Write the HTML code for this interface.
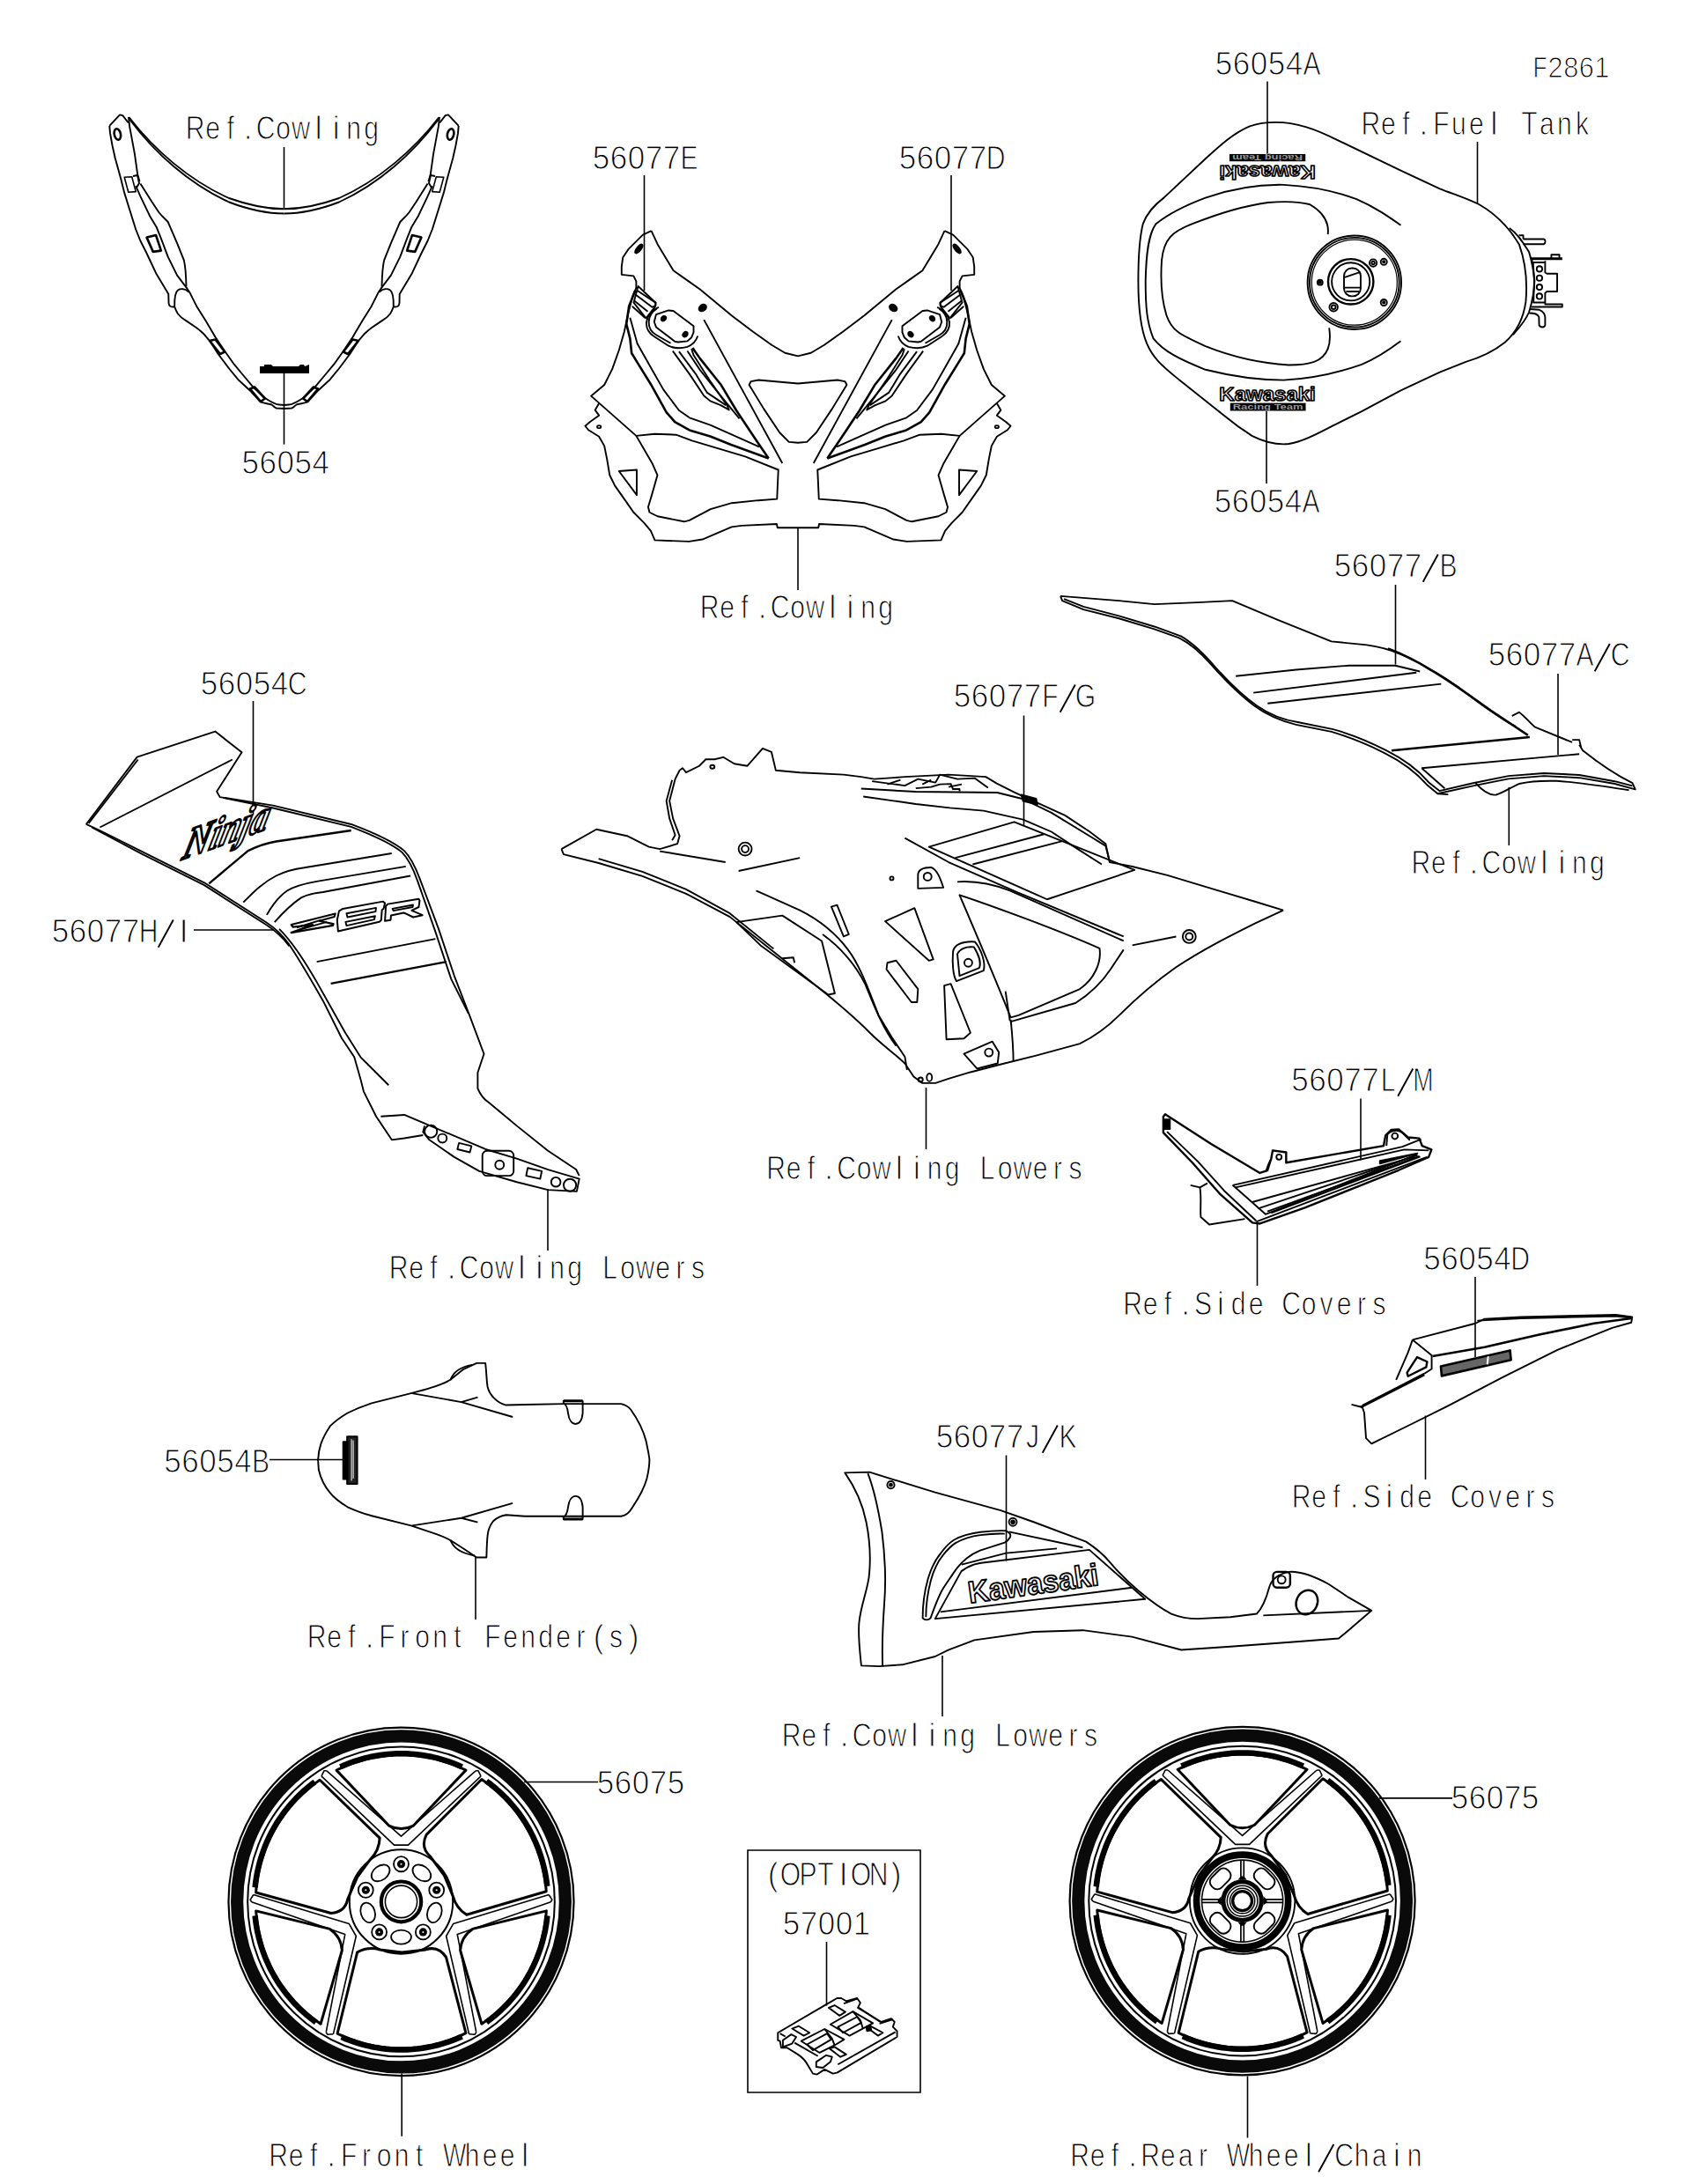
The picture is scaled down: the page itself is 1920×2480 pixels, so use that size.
<!DOCTYPE html>
<html><head><meta charset="utf-8"><title>F2861</title>
<style>
html,body{margin:0;padding:0;background:#fff;}
body{width:1920px;height:2480px;overflow:hidden;}
svg{display:block;}
path,ellipse,rect,circle,polyline,line{vector-effect:non-scaling-stroke;}
#labels text{font-family:"Liberation Sans",sans-serif;fill:#000;stroke:#fff;stroke-width:1.0px;text-anchor:middle;}
</style></head><body>
<svg width="1920" height="2480" viewBox="0 0 1920 2480">

<g id="labels">
<text transform="translate(221.7,158.3) scale(0.86,1.05)" font-size="35.0">R</text>
<text transform="translate(241.7,158.3) scale(0.86,1.05)" font-size="35.0">e</text>
<text transform="translate(261.7,158.3) scale(0.86,1.05)" font-size="35.0">f</text>
<text transform="translate(281.7,158.3) scale(1.0,1.05)" font-size="35.0">.</text>
<text transform="translate(301.7,158.3) scale(0.86,1.05)" font-size="35.0">C</text>
<text transform="translate(321.7,158.3) scale(0.86,1.05)" font-size="35.0">o</text>
<text transform="translate(341.7,158.3) scale(0.84,1.05)" font-size="35.0">w</text>
<text transform="translate(361.7,158.3) scale(1.0,1.05)" font-size="35.0">l</text>
<text transform="translate(381.7,158.3) scale(1.0,1.05)" font-size="35.0">i</text>
<text transform="translate(401.7,158.3) scale(0.86,1.05)" font-size="35.0">n</text>
<text transform="translate(421.7,158.3) scale(0.86,1.05)" font-size="35.0">g</text>
<text transform="translate(284.1,538.4) scale(1.0,1.05)" font-size="35.0">5</text>
<text transform="translate(304.1,538.4) scale(1.0,1.05)" font-size="35.0">6</text>
<text transform="translate(324.1,538.4) scale(1.0,1.05)" font-size="35.0">0</text>
<text transform="translate(344.1,538.4) scale(1.0,1.05)" font-size="35.0">5</text>
<text transform="translate(364.1,538.4) scale(1.0,1.05)" font-size="35.0">4</text>
<text transform="translate(682.5,192.3) scale(1.0,1.05)" font-size="35.0">5</text>
<text transform="translate(702.5,192.3) scale(1.0,1.05)" font-size="35.0">6</text>
<text transform="translate(722.5,192.3) scale(1.0,1.05)" font-size="35.0">0</text>
<text transform="translate(742.5,192.3) scale(1.0,1.05)" font-size="35.0">7</text>
<text transform="translate(762.5,192.3) scale(1.0,1.05)" font-size="35.0">7</text>
<text transform="translate(782.5,192.3) scale(0.86,1.05)" font-size="35.0">E</text>
<text transform="translate(1030.5,192.3) scale(1.0,1.05)" font-size="35.0">5</text>
<text transform="translate(1050.5,192.3) scale(1.0,1.05)" font-size="35.0">6</text>
<text transform="translate(1070.5,192.3) scale(1.0,1.05)" font-size="35.0">0</text>
<text transform="translate(1090.5,192.3) scale(1.0,1.05)" font-size="35.0">7</text>
<text transform="translate(1110.5,192.3) scale(1.0,1.05)" font-size="35.0">7</text>
<text transform="translate(1130.5,192.3) scale(0.86,1.05)" font-size="35.0">D</text>
<text transform="translate(805.5,702.3) scale(0.86,1.05)" font-size="35.0">R</text>
<text transform="translate(825.5,702.3) scale(0.86,1.05)" font-size="35.0">e</text>
<text transform="translate(845.5,702.3) scale(0.86,1.05)" font-size="35.0">f</text>
<text transform="translate(865.5,702.3) scale(1.0,1.05)" font-size="35.0">.</text>
<text transform="translate(885.5,702.3) scale(0.86,1.05)" font-size="35.0">C</text>
<text transform="translate(905.5,702.3) scale(0.86,1.05)" font-size="35.0">o</text>
<text transform="translate(925.5,702.3) scale(0.84,1.05)" font-size="35.0">w</text>
<text transform="translate(945.5,702.3) scale(1.0,1.05)" font-size="35.0">l</text>
<text transform="translate(965.5,702.3) scale(1.0,1.05)" font-size="35.0">i</text>
<text transform="translate(985.5,702.3) scale(0.86,1.05)" font-size="35.0">n</text>
<text transform="translate(1005.5,702.3) scale(0.86,1.05)" font-size="35.0">g</text>
<text transform="translate(1389.5,84.6) scale(1.0,1.05)" font-size="35.0">5</text>
<text transform="translate(1409.5,84.6) scale(1.0,1.05)" font-size="35.0">6</text>
<text transform="translate(1429.5,84.6) scale(1.0,1.05)" font-size="35.0">0</text>
<text transform="translate(1449.5,84.6) scale(1.0,1.05)" font-size="35.0">5</text>
<text transform="translate(1469.5,84.6) scale(1.0,1.05)" font-size="35.0">4</text>
<text transform="translate(1489.5,84.6) scale(0.86,1.05)" font-size="35.0">A</text>
<text transform="translate(1748.5,87.9) scale(0.86,1.05)" font-size="30.8">F</text>
<text transform="translate(1766.1,87.9) scale(1.0,1.05)" font-size="30.8">2</text>
<text transform="translate(1783.7,87.9) scale(1.0,1.05)" font-size="30.8">8</text>
<text transform="translate(1801.3,87.9) scale(1.0,1.05)" font-size="30.8">6</text>
<text transform="translate(1818.9,87.9) scale(1.0,1.05)" font-size="30.8">1</text>
<text transform="translate(1556.4,152.6) scale(0.86,1.05)" font-size="35.0">R</text>
<text transform="translate(1576.4,152.6) scale(0.86,1.05)" font-size="35.0">e</text>
<text transform="translate(1596.4,152.6) scale(0.86,1.05)" font-size="35.0">f</text>
<text transform="translate(1616.4,152.6) scale(1.0,1.05)" font-size="35.0">.</text>
<text transform="translate(1636.4,152.6) scale(0.86,1.05)" font-size="35.0">F</text>
<text transform="translate(1656.4,152.6) scale(0.86,1.05)" font-size="35.0">u</text>
<text transform="translate(1676.4,152.6) scale(0.86,1.05)" font-size="35.0">e</text>
<text transform="translate(1696.4,152.6) scale(1.0,1.05)" font-size="35.0">l</text>
<text transform="translate(1736.4,152.6) scale(0.86,1.05)" font-size="35.0">T</text>
<text transform="translate(1756.4,152.6) scale(0.86,1.05)" font-size="35.0">a</text>
<text transform="translate(1776.4,152.6) scale(0.86,1.05)" font-size="35.0">n</text>
<text transform="translate(1796.4,152.6) scale(0.86,1.05)" font-size="35.0">k</text>
<text transform="translate(1388.5,582.3) scale(1.0,1.05)" font-size="35.0">5</text>
<text transform="translate(1408.5,582.3) scale(1.0,1.05)" font-size="35.0">6</text>
<text transform="translate(1428.5,582.3) scale(1.0,1.05)" font-size="35.0">0</text>
<text transform="translate(1448.5,582.3) scale(1.0,1.05)" font-size="35.0">5</text>
<text transform="translate(1468.5,582.3) scale(1.0,1.05)" font-size="35.0">4</text>
<text transform="translate(1488.5,582.3) scale(0.86,1.05)" font-size="35.0">A</text>
<text transform="translate(1524.5,654.8) scale(1.0,1.05)" font-size="35.0">5</text>
<text transform="translate(1544.5,654.8) scale(1.0,1.05)" font-size="35.0">6</text>
<text transform="translate(1564.5,654.8) scale(1.0,1.05)" font-size="35.0">0</text>
<text transform="translate(1584.5,654.8) scale(1.0,1.05)" font-size="35.0">7</text>
<text transform="translate(1604.5,654.8) scale(1.0,1.05)" font-size="35.0">7</text>
<path d="M1615.7 660.8 L1632.8 629.5" stroke="#000" stroke-width="1.90" fill="none"/>
<text transform="translate(1644.5,654.8) scale(0.86,1.05)" font-size="35.0">B</text>
<text transform="translate(1699.5,756.3) scale(1.0,1.05)" font-size="35.0">5</text>
<text transform="translate(1719.5,756.3) scale(1.0,1.05)" font-size="35.0">6</text>
<text transform="translate(1739.5,756.3) scale(1.0,1.05)" font-size="35.0">0</text>
<text transform="translate(1759.5,756.3) scale(1.0,1.05)" font-size="35.0">7</text>
<text transform="translate(1779.5,756.3) scale(1.0,1.05)" font-size="35.0">7</text>
<text transform="translate(1799.5,756.3) scale(0.86,1.05)" font-size="35.0">A</text>
<path d="M1810.7 762.3 L1827.8 731.0" stroke="#000" stroke-width="1.90" fill="none"/>
<text transform="translate(1839.5,756.3) scale(0.86,1.05)" font-size="35.0">C</text>
<text transform="translate(237.5,788.8) scale(1.0,1.05)" font-size="35.0">5</text>
<text transform="translate(257.5,788.8) scale(1.0,1.05)" font-size="35.0">6</text>
<text transform="translate(277.5,788.8) scale(1.0,1.05)" font-size="35.0">0</text>
<text transform="translate(297.5,788.8) scale(1.0,1.05)" font-size="35.0">5</text>
<text transform="translate(317.5,788.8) scale(1.0,1.05)" font-size="35.0">4</text>
<text transform="translate(337.5,788.8) scale(0.86,1.05)" font-size="35.0">C</text>
<text transform="translate(68.5,1069.8) scale(1.0,1.05)" font-size="35.0">5</text>
<text transform="translate(88.5,1069.8) scale(1.0,1.05)" font-size="35.0">6</text>
<text transform="translate(108.5,1069.8) scale(1.0,1.05)" font-size="35.0">0</text>
<text transform="translate(128.5,1069.8) scale(1.0,1.05)" font-size="35.0">7</text>
<text transform="translate(148.5,1069.8) scale(1.0,1.05)" font-size="35.0">7</text>
<text transform="translate(168.5,1069.8) scale(0.86,1.05)" font-size="35.0">H</text>
<path d="M179.7 1075.8 L196.8 1044.5" stroke="#000" stroke-width="1.90" fill="none"/>
<text transform="translate(208.5,1069.8) scale(1.0,1.05)" font-size="35.0">I</text>
<text transform="translate(452.5,1452.3) scale(0.86,1.05)" font-size="35.0">R</text>
<text transform="translate(472.5,1452.3) scale(0.86,1.05)" font-size="35.0">e</text>
<text transform="translate(492.5,1452.3) scale(0.86,1.05)" font-size="35.0">f</text>
<text transform="translate(512.5,1452.3) scale(1.0,1.05)" font-size="35.0">.</text>
<text transform="translate(532.5,1452.3) scale(0.86,1.05)" font-size="35.0">C</text>
<text transform="translate(552.5,1452.3) scale(0.86,1.05)" font-size="35.0">o</text>
<text transform="translate(572.5,1452.3) scale(0.84,1.05)" font-size="35.0">w</text>
<text transform="translate(592.5,1452.3) scale(1.0,1.05)" font-size="35.0">l</text>
<text transform="translate(612.5,1452.3) scale(1.0,1.05)" font-size="35.0">i</text>
<text transform="translate(632.5,1452.3) scale(0.86,1.05)" font-size="35.0">n</text>
<text transform="translate(652.5,1452.3) scale(0.86,1.05)" font-size="35.0">g</text>
<text transform="translate(692.5,1452.3) scale(0.86,1.05)" font-size="35.0">L</text>
<text transform="translate(712.5,1452.3) scale(0.86,1.05)" font-size="35.0">o</text>
<text transform="translate(732.5,1452.3) scale(0.84,1.05)" font-size="35.0">w</text>
<text transform="translate(752.5,1452.3) scale(0.86,1.05)" font-size="35.0">e</text>
<text transform="translate(772.5,1452.3) scale(0.86,1.05)" font-size="35.0">r</text>
<text transform="translate(792.5,1452.3) scale(0.86,1.05)" font-size="35.0">s</text>
<text transform="translate(1092.5,802.8) scale(1.0,1.05)" font-size="35.0">5</text>
<text transform="translate(1112.5,802.8) scale(1.0,1.05)" font-size="35.0">6</text>
<text transform="translate(1132.5,802.8) scale(1.0,1.05)" font-size="35.0">0</text>
<text transform="translate(1152.5,802.8) scale(1.0,1.05)" font-size="35.0">7</text>
<text transform="translate(1172.5,802.8) scale(1.0,1.05)" font-size="35.0">7</text>
<text transform="translate(1192.5,802.8) scale(0.86,1.05)" font-size="35.0">F</text>
<path d="M1203.7 808.8 L1220.8 777.5" stroke="#000" stroke-width="1.90" fill="none"/>
<text transform="translate(1232.5,802.8) scale(0.86,1.05)" font-size="35.0">G</text>
<text transform="translate(881.0,1338.8) scale(0.86,1.05)" font-size="35.0">R</text>
<text transform="translate(901.0,1338.8) scale(0.86,1.05)" font-size="35.0">e</text>
<text transform="translate(921.0,1338.8) scale(0.86,1.05)" font-size="35.0">f</text>
<text transform="translate(941.0,1338.8) scale(1.0,1.05)" font-size="35.0">.</text>
<text transform="translate(961.0,1338.8) scale(0.86,1.05)" font-size="35.0">C</text>
<text transform="translate(981.0,1338.8) scale(0.86,1.05)" font-size="35.0">o</text>
<text transform="translate(1001.0,1338.8) scale(0.84,1.05)" font-size="35.0">w</text>
<text transform="translate(1021.0,1338.8) scale(1.0,1.05)" font-size="35.0">l</text>
<text transform="translate(1041.0,1338.8) scale(1.0,1.05)" font-size="35.0">i</text>
<text transform="translate(1061.0,1338.8) scale(0.86,1.05)" font-size="35.0">n</text>
<text transform="translate(1081.0,1338.8) scale(0.86,1.05)" font-size="35.0">g</text>
<text transform="translate(1121.0,1338.8) scale(0.86,1.05)" font-size="35.0">L</text>
<text transform="translate(1141.0,1338.8) scale(0.86,1.05)" font-size="35.0">o</text>
<text transform="translate(1161.0,1338.8) scale(0.84,1.05)" font-size="35.0">w</text>
<text transform="translate(1181.0,1338.8) scale(0.86,1.05)" font-size="35.0">e</text>
<text transform="translate(1201.0,1338.8) scale(0.86,1.05)" font-size="35.0">r</text>
<text transform="translate(1221.0,1338.8) scale(0.86,1.05)" font-size="35.0">s</text>
<text transform="translate(1476.0,1238.8) scale(1.0,1.05)" font-size="35.0">5</text>
<text transform="translate(1496.0,1238.8) scale(1.0,1.05)" font-size="35.0">6</text>
<text transform="translate(1516.0,1238.8) scale(1.0,1.05)" font-size="35.0">0</text>
<text transform="translate(1536.0,1238.8) scale(1.0,1.05)" font-size="35.0">7</text>
<text transform="translate(1556.0,1238.8) scale(1.0,1.05)" font-size="35.0">7</text>
<text transform="translate(1576.0,1238.8) scale(0.86,1.05)" font-size="35.0">L</text>
<path d="M1587.2 1244.8 L1604.3 1213.5" stroke="#000" stroke-width="1.90" fill="none"/>
<text transform="translate(1616.0,1238.8) scale(0.8,1.05)" font-size="35.0">M</text>
<text transform="translate(1286.0,1493.3) scale(0.86,1.05)" font-size="35.0">R</text>
<text transform="translate(1306.0,1493.3) scale(0.86,1.05)" font-size="35.0">e</text>
<text transform="translate(1326.0,1493.3) scale(0.86,1.05)" font-size="35.0">f</text>
<text transform="translate(1346.0,1493.3) scale(1.0,1.05)" font-size="35.0">.</text>
<text transform="translate(1366.0,1493.3) scale(0.86,1.05)" font-size="35.0">S</text>
<text transform="translate(1386.0,1493.3) scale(1.0,1.05)" font-size="35.0">i</text>
<text transform="translate(1406.0,1493.3) scale(0.86,1.05)" font-size="35.0">d</text>
<text transform="translate(1426.0,1493.3) scale(0.86,1.05)" font-size="35.0">e</text>
<text transform="translate(1466.0,1493.3) scale(0.86,1.05)" font-size="35.0">C</text>
<text transform="translate(1486.0,1493.3) scale(0.86,1.05)" font-size="35.0">o</text>
<text transform="translate(1506.0,1493.3) scale(0.86,1.05)" font-size="35.0">v</text>
<text transform="translate(1526.0,1493.3) scale(0.86,1.05)" font-size="35.0">e</text>
<text transform="translate(1546.0,1493.3) scale(0.86,1.05)" font-size="35.0">r</text>
<text transform="translate(1566.0,1493.3) scale(0.86,1.05)" font-size="35.0">s</text>
<text transform="translate(1626.0,1442.3) scale(1.0,1.05)" font-size="35.0">5</text>
<text transform="translate(1646.0,1442.3) scale(1.0,1.05)" font-size="35.0">6</text>
<text transform="translate(1666.0,1442.3) scale(1.0,1.05)" font-size="35.0">0</text>
<text transform="translate(1686.0,1442.3) scale(1.0,1.05)" font-size="35.0">5</text>
<text transform="translate(1706.0,1442.3) scale(1.0,1.05)" font-size="35.0">4</text>
<text transform="translate(1726.0,1442.3) scale(0.86,1.05)" font-size="35.0">D</text>
<text transform="translate(1477.5,1711.8) scale(0.86,1.05)" font-size="35.0">R</text>
<text transform="translate(1497.5,1711.8) scale(0.86,1.05)" font-size="35.0">e</text>
<text transform="translate(1517.5,1711.8) scale(0.86,1.05)" font-size="35.0">f</text>
<text transform="translate(1537.5,1711.8) scale(1.0,1.05)" font-size="35.0">.</text>
<text transform="translate(1557.5,1711.8) scale(0.86,1.05)" font-size="35.0">S</text>
<text transform="translate(1577.5,1711.8) scale(1.0,1.05)" font-size="35.0">i</text>
<text transform="translate(1597.5,1711.8) scale(0.86,1.05)" font-size="35.0">d</text>
<text transform="translate(1617.5,1711.8) scale(0.86,1.05)" font-size="35.0">e</text>
<text transform="translate(1657.5,1711.8) scale(0.86,1.05)" font-size="35.0">C</text>
<text transform="translate(1677.5,1711.8) scale(0.86,1.05)" font-size="35.0">o</text>
<text transform="translate(1697.5,1711.8) scale(0.86,1.05)" font-size="35.0">v</text>
<text transform="translate(1717.5,1711.8) scale(0.86,1.05)" font-size="35.0">e</text>
<text transform="translate(1737.5,1711.8) scale(0.86,1.05)" font-size="35.0">r</text>
<text transform="translate(1757.5,1711.8) scale(0.86,1.05)" font-size="35.0">s</text>
<text transform="translate(1072.5,1643.8) scale(1.0,1.05)" font-size="35.0">5</text>
<text transform="translate(1092.5,1643.8) scale(1.0,1.05)" font-size="35.0">6</text>
<text transform="translate(1112.5,1643.8) scale(1.0,1.05)" font-size="35.0">0</text>
<text transform="translate(1132.5,1643.8) scale(1.0,1.05)" font-size="35.0">7</text>
<text transform="translate(1152.5,1643.8) scale(1.0,1.05)" font-size="35.0">7</text>
<text transform="translate(1172.5,1643.8) scale(0.86,1.05)" font-size="35.0">J</text>
<path d="M1183.7 1649.8 L1200.8 1618.5" stroke="#000" stroke-width="1.90" fill="none"/>
<text transform="translate(1212.5,1643.8) scale(0.86,1.05)" font-size="35.0">K</text>
<text transform="translate(196.0,1671.6) scale(1.0,1.05)" font-size="35.0">5</text>
<text transform="translate(216.0,1671.6) scale(1.0,1.05)" font-size="35.0">6</text>
<text transform="translate(236.0,1671.6) scale(1.0,1.05)" font-size="35.0">0</text>
<text transform="translate(256.0,1671.6) scale(1.0,1.05)" font-size="35.0">5</text>
<text transform="translate(276.0,1671.6) scale(1.0,1.05)" font-size="35.0">4</text>
<text transform="translate(296.0,1671.6) scale(0.86,1.05)" font-size="35.0">B</text>
<text transform="translate(359.5,1871.3) scale(0.86,1.05)" font-size="35.0">R</text>
<text transform="translate(379.5,1871.3) scale(0.86,1.05)" font-size="35.0">e</text>
<text transform="translate(399.5,1871.3) scale(0.86,1.05)" font-size="35.0">f</text>
<text transform="translate(419.5,1871.3) scale(1.0,1.05)" font-size="35.0">.</text>
<text transform="translate(439.5,1871.3) scale(0.86,1.05)" font-size="35.0">F</text>
<text transform="translate(459.5,1871.3) scale(0.86,1.05)" font-size="35.0">r</text>
<text transform="translate(479.5,1871.3) scale(0.86,1.05)" font-size="35.0">o</text>
<text transform="translate(499.5,1871.3) scale(0.86,1.05)" font-size="35.0">n</text>
<text transform="translate(519.5,1871.3) scale(0.86,1.05)" font-size="35.0">t</text>
<text transform="translate(559.5,1871.3) scale(0.86,1.05)" font-size="35.0">F</text>
<text transform="translate(579.5,1871.3) scale(0.86,1.05)" font-size="35.0">e</text>
<text transform="translate(599.5,1871.3) scale(0.86,1.05)" font-size="35.0">n</text>
<text transform="translate(619.5,1871.3) scale(0.86,1.05)" font-size="35.0">d</text>
<text transform="translate(639.5,1871.3) scale(0.86,1.05)" font-size="35.0">e</text>
<text transform="translate(659.5,1871.3) scale(0.86,1.05)" font-size="35.0">r</text>
<text transform="translate(679.5,1871.3) scale(1.0,1.05)" font-size="35.0">(</text>
<text transform="translate(699.5,1871.3) scale(0.86,1.05)" font-size="35.0">s</text>
<text transform="translate(719.5,1871.3) scale(1.0,1.05)" font-size="35.0">)</text>
<text transform="translate(687.5,2037.0) scale(1.0,1.05)" font-size="35.0">5</text>
<text transform="translate(707.5,2037.0) scale(1.0,1.05)" font-size="35.0">6</text>
<text transform="translate(727.5,2037.0) scale(1.0,1.05)" font-size="35.0">0</text>
<text transform="translate(747.5,2037.0) scale(1.0,1.05)" font-size="35.0">7</text>
<text transform="translate(767.5,2037.0) scale(1.0,1.05)" font-size="35.0">5</text>
<text transform="translate(898.5,1982.8) scale(0.86,1.05)" font-size="35.0">R</text>
<text transform="translate(918.5,1982.8) scale(0.86,1.05)" font-size="35.0">e</text>
<text transform="translate(938.5,1982.8) scale(0.86,1.05)" font-size="35.0">f</text>
<text transform="translate(958.5,1982.8) scale(1.0,1.05)" font-size="35.0">.</text>
<text transform="translate(978.5,1982.8) scale(0.86,1.05)" font-size="35.0">C</text>
<text transform="translate(998.5,1982.8) scale(0.86,1.05)" font-size="35.0">o</text>
<text transform="translate(1018.5,1982.8) scale(0.84,1.05)" font-size="35.0">w</text>
<text transform="translate(1038.5,1982.8) scale(1.0,1.05)" font-size="35.0">l</text>
<text transform="translate(1058.5,1982.8) scale(1.0,1.05)" font-size="35.0">i</text>
<text transform="translate(1078.5,1982.8) scale(0.86,1.05)" font-size="35.0">n</text>
<text transform="translate(1098.5,1982.8) scale(0.86,1.05)" font-size="35.0">g</text>
<text transform="translate(1138.5,1982.8) scale(0.86,1.05)" font-size="35.0">L</text>
<text transform="translate(1158.5,1982.8) scale(0.86,1.05)" font-size="35.0">o</text>
<text transform="translate(1178.5,1982.8) scale(0.84,1.05)" font-size="35.0">w</text>
<text transform="translate(1198.5,1982.8) scale(0.86,1.05)" font-size="35.0">e</text>
<text transform="translate(1218.5,1982.8) scale(0.86,1.05)" font-size="35.0">r</text>
<text transform="translate(1238.5,1982.8) scale(0.86,1.05)" font-size="35.0">s</text>
<text transform="translate(877.5,2140.8) scale(1.0,1.05)" font-size="35.0">(</text>
<text transform="translate(897.5,2140.8) scale(0.86,1.05)" font-size="35.0">O</text>
<text transform="translate(917.5,2140.8) scale(0.86,1.05)" font-size="35.0">P</text>
<text transform="translate(937.5,2140.8) scale(0.86,1.05)" font-size="35.0">T</text>
<text transform="translate(957.5,2140.8) scale(1.0,1.05)" font-size="35.0">I</text>
<text transform="translate(977.5,2140.8) scale(0.86,1.05)" font-size="35.0">O</text>
<text transform="translate(997.5,2140.8) scale(0.86,1.05)" font-size="35.0">N</text>
<text transform="translate(1017.5,2140.8) scale(1.0,1.05)" font-size="35.0">)</text>
<text transform="translate(898.5,2197.3) scale(1.0,1.05)" font-size="35.0">5</text>
<text transform="translate(918.5,2197.3) scale(1.0,1.05)" font-size="35.0">7</text>
<text transform="translate(938.5,2197.3) scale(1.0,1.05)" font-size="35.0">0</text>
<text transform="translate(958.5,2197.3) scale(1.0,1.05)" font-size="35.0">0</text>
<text transform="translate(978.5,2197.3) scale(1.0,1.05)" font-size="35.0">1</text>
<text transform="translate(1226.0,2460.3) scale(0.86,1.05)" font-size="35.0">R</text>
<text transform="translate(1246.0,2460.3) scale(0.86,1.05)" font-size="35.0">e</text>
<text transform="translate(1266.0,2460.3) scale(0.86,1.05)" font-size="35.0">f</text>
<text transform="translate(1286.0,2460.3) scale(1.0,1.05)" font-size="35.0">.</text>
<text transform="translate(1306.0,2460.3) scale(0.86,1.05)" font-size="35.0">R</text>
<text transform="translate(1326.0,2460.3) scale(0.86,1.05)" font-size="35.0">e</text>
<text transform="translate(1346.0,2460.3) scale(0.86,1.05)" font-size="35.0">a</text>
<text transform="translate(1366.0,2460.3) scale(0.86,1.05)" font-size="35.0">r</text>
<text transform="translate(1406.0,2460.3) scale(0.8,1.05)" font-size="35.0">W</text>
<text transform="translate(1426.0,2460.3) scale(0.86,1.05)" font-size="35.0">h</text>
<text transform="translate(1446.0,2460.3) scale(0.86,1.05)" font-size="35.0">e</text>
<text transform="translate(1466.0,2460.3) scale(0.86,1.05)" font-size="35.0">e</text>
<text transform="translate(1486.0,2460.3) scale(1.0,1.05)" font-size="35.0">l</text>
<path d="M1497.2 2466.3 L1514.3 2435.0" stroke="#000" stroke-width="1.90" fill="none"/>
<text transform="translate(1526.0,2460.3) scale(0.86,1.05)" font-size="35.0">C</text>
<text transform="translate(1546.0,2460.3) scale(0.86,1.05)" font-size="35.0">h</text>
<text transform="translate(1566.0,2460.3) scale(0.86,1.05)" font-size="35.0">a</text>
<text transform="translate(1586.0,2460.3) scale(1.0,1.05)" font-size="35.0">i</text>
<text transform="translate(1606.0,2460.3) scale(0.86,1.05)" font-size="35.0">n</text>
<text transform="translate(1657.5,2054.1) scale(1.0,1.05)" font-size="35.0">5</text>
<text transform="translate(1677.5,2054.1) scale(1.0,1.05)" font-size="35.0">6</text>
<text transform="translate(1697.5,2054.1) scale(1.0,1.05)" font-size="35.0">0</text>
<text transform="translate(1717.5,2054.1) scale(1.0,1.05)" font-size="35.0">7</text>
<text transform="translate(1737.5,2054.1) scale(1.0,1.05)" font-size="35.0">5</text>
<text transform="translate(316.1,2459.5) scale(0.86,1.05)" font-size="35.0">R</text>
<text transform="translate(336.1,2459.5) scale(0.86,1.05)" font-size="35.0">e</text>
<text transform="translate(356.1,2459.5) scale(0.86,1.05)" font-size="35.0">f</text>
<text transform="translate(376.1,2459.5) scale(1.0,1.05)" font-size="35.0">.</text>
<text transform="translate(396.1,2459.5) scale(0.86,1.05)" font-size="35.0">F</text>
<text transform="translate(416.1,2459.5) scale(0.86,1.05)" font-size="35.0">r</text>
<text transform="translate(436.1,2459.5) scale(0.86,1.05)" font-size="35.0">o</text>
<text transform="translate(456.1,2459.5) scale(0.86,1.05)" font-size="35.0">n</text>
<text transform="translate(476.1,2459.5) scale(0.86,1.05)" font-size="35.0">t</text>
<text transform="translate(516.1,2459.5) scale(0.8,1.05)" font-size="35.0">W</text>
<text transform="translate(536.1,2459.5) scale(0.86,1.05)" font-size="35.0">h</text>
<text transform="translate(556.1,2459.5) scale(0.86,1.05)" font-size="35.0">e</text>
<text transform="translate(576.1,2459.5) scale(0.86,1.05)" font-size="35.0">e</text>
<text transform="translate(596.1,2459.5) scale(1.0,1.05)" font-size="35.0">l</text>
<text transform="translate(1613.4,992.0) scale(0.86,1.05)" font-size="35.0">R</text>
<text transform="translate(1633.4,992.0) scale(0.86,1.05)" font-size="35.0">e</text>
<text transform="translate(1653.4,992.0) scale(0.86,1.05)" font-size="35.0">f</text>
<text transform="translate(1673.4,992.0) scale(1.0,1.05)" font-size="35.0">.</text>
<text transform="translate(1693.4,992.0) scale(0.86,1.05)" font-size="35.0">C</text>
<text transform="translate(1713.4,992.0) scale(0.86,1.05)" font-size="35.0">o</text>
<text transform="translate(1733.4,992.0) scale(0.84,1.05)" font-size="35.0">w</text>
<text transform="translate(1753.4,992.0) scale(1.0,1.05)" font-size="35.0">l</text>
<text transform="translate(1773.4,992.0) scale(1.0,1.05)" font-size="35.0">i</text>
<text transform="translate(1793.4,992.0) scale(0.86,1.05)" font-size="35.0">n</text>
<text transform="translate(1813.4,992.0) scale(0.86,1.05)" font-size="35.0">g</text>
</g>
<!-- 00_leaders.svg -->
<g id="leaders" stroke="#000" stroke-width="1.6" fill="none">
<path d="M322.5 167V236.6"/>
<path d="M322.5 422.7V504.6"/>
<path d="M731.5 199V330"/>
<path d="M1080 199V330"/>
<path d="M906 600V670"/>
<path d="M1439 92.5V175"/>
<path d="M1677.5 161V231"/>
<path d="M1438 465V549"/>
<path d="M1584.5 664V754.5"/>
<path d="M1769 765V857"/>
<path d="M1713.3 893.8V960"/>
<path d="M287.5 796V925"/>
<path d="M220 1056H310"/>
<path d="M622 1350V1420"/>
<path d="M1162.5 812.5V937.5"/>
<path d="M1051.5 1235V1305"/>
<path d="M1545 1247.5V1317.5"/>
<path d="M1427.5 1390V1460"/>
<path d="M1675 1450V1541"/>
<path d="M1618.5 1607.5V1680"/>
<path d="M1142.5 1652.5V1772.5"/>
<path d="M306 1657.5H395"/>
<path d="M540 1767.5V1839"/>
<path d="M595 2023.5H679"/>
<path d="M1070 1880V1949"/>
<path d="M938.5 2205V2277.5"/>
<path d="M1416.5 2357.5V2427.5"/>
<path d="M1565.8 2041.9H1649"/>
<path d="M456.2 2354.5V2425.8"/>
<rect x="849" y="2101" width="196" height="275"/>
</g>

<!-- 10_windscreen.svg -->
<g id="windscreen" stroke="#000" stroke-width="1.9" fill="none" stroke-linejoin="round">
<g id="wsL">
<!-- top tip -->
<path d="M124.3 142.8 L136 130.4 L139.3 131.1 L145.8 139.5"/>
<ellipse cx="133.4" cy="152.5" rx="3.6" ry="6.3" transform="rotate(-12 133.4 152.5)" stroke-width="2.6"/>
<!-- outer edge -->
<path d="M124.3 142.8 L125 151.2 L127.6 165.5 L130.8 179.8 L137.3 203.3 L141.2 218.9 L147.7 239.7 L154.2 260.5 L159.4 273.5 L166 286.5 L177.7 311.3 L189.4 330.8 L191.3 334 L191.5 344 Q192 349 197 348.5 L198.2 348.2"/>
<!-- inner arm line -->
<path d="M146 133 L147.1 143.4 L152.9 174.6 L156.2 198.1 L158.5 206"/>
<path d="M159.4 208.5 L172.5 229.3 L180.3 241 C185 247 188 249 190.7 252 L201.1 276.1 L208.9 295.6 C211 305 211.3 315 211.5 325.6"/>
<path d="M154.2 211.1 L159.4 222.8 L169.9 244.9 L177.7 257.9 L182.9 270.9 L190.7 291.7 L201.1 312.6 L211.5 326.4 L215.8 332.8 L223.2 347.7 L233.9 364.7 L244.5 382.8 L255.2 398.8 L265.8 413.7 L276.5 426.5 L287.1 439.2 L300.9 452 C306 455 311 459 316.9 459.5 L322.5 460"/>
<!-- lobe and lower outer -->
<path d="M198.2 348.2 C198 340 198.5 332 202 329.5 C205 327.5 210 327.5 214.7 331.7"/>
<path d="M198.2 348.2 C199.5 352 200.5 354 201.9 356.2 C204 359 207 361.5 210.5 363.6 L223.2 372.2 C227 375 229 377 231.7 379.6 L238.1 387.1 L247.7 402 L260.5 419 L271.1 431.8 L285 444.5 L295.6 456.3 C300 458 305 458.5 308.4 459.5 C311 461 311.5 463 314 463.5 L322.5 464"/>
<!-- upper arc double -->
<path d="M146.4 133 C175 170 215 205 260 225 C285 234 305 237.3 322.5 237.3"/>
<path d="M147.5 136 C176 174 215 209 260 229.5 C285 239 305 242.5 322.5 242.5"/>
<!-- slots -->
<path d="M141.2 201.3 L149.7 200.7 L154.2 217.6 L145.8 218.2 Z" stroke-width="1.6"/>
<path d="M151 200 L156 199 L158 208 L154.5 214"/>
<path d="M166.6 269.6 L177 267 L182.9 284.6 L173.8 285.9 Z" stroke-width="2.6"/>
<path d="M238.1 387 L244.5 385.5 L255.2 399.5 L250 402 Z" stroke-width="2.6"/>
<path d="M283.9 441.5 L289 439.5 L300.9 452.5 L296 456 Z" stroke-width="2.6"/>
</g>
<use href="#wsL" transform="translate(645,0) scale(-1,1)"/>
<path d="M295 416 L300 416 L300 414 L308 414 L310 416 L339 416 L341 414 L345 414 L346 416 L351 414 L351 424 L295 424 Z" fill="#000" stroke="none"/>
</g>

<!-- 20_frontcowl.svg -->
<g id="frontcowl" stroke="#000" stroke-width="1.9" fill="none" stroke-linejoin="round">
<g id="fcL">
<g transform="translate(650,250) scale(0.30159)">
<path d="M297 40 L320 90 L350 140 L380 190 L430 225 L480 260 L540 310 L600 360 L680 420 L750 470 L800 500 L849 512"/>
<path d="M297 40 L265 55 L240 80 L210 110 L190 140 L185 175 L185 205 L230 210 L240 230 L240 255"/>
<path d="M240 255 L225 290 L210 350 L195 420 L175 490 L150 560 L120 620 L70 662 L240 812"/>
<path d="M100 690 L85 715 L100 735 L65 760 L48 775 L60 790 L100 815 L120 850 L130 900 L140 960 L160 1000 L195 1050 L230 1100 L270 1140 L295 1170 L310 1205 L439 1210 L489 1202 L599 1155 L637 1150 L769 1144 L772 1158 L849 1158"/>
<ellipse cx="100" cy="778" rx="7" ry="5"/>
<path d="M240 812 L310 805 L390 808 L450 830 L550 860 L650 890 L775 940 L770 1050 L700 1055 L600 1065 L520 1088 L440 1130 L420 1135 L320 1115 L290 1100 L285 1080 L300 1030 L320 960 L300 915 Z"/>
<path d="M175 945 L242 940 L242 1035 Z"/>
<path d="M849 615 L700 602 L672 607 L665 620 L720 710 L780 800 L815 835 L849 838"/>
<path d="M495 375 L790 915"/>
<ellipse cx="490" cy="330" rx="15" ry="11" transform="rotate(-35 490 330)" fill="#000"/>
</g>
<g transform="translate(700,330) scale(0.11827)">
<path d="M405 160 C340 185 300 230 288 300 C282 360 300 400 360 440 L500 530 C540 550 600 560 680 540 C730 520 765 480 780 435"/>
<path d="M385 175 C335 205 312 250 310 300 C308 360 330 395 380 425 L520 505"/>
<path d="M380 230 L500 190 L545 195 L740 340 L740 400 L720 450 L680 485 L590 495 L560 488 L380 350 L362 300 Z"/>
<ellipse cx="452" cy="268" rx="26" ry="20" transform="rotate(-50 452 268)" fill="#000"/>
<ellipse cx="660" cy="420" rx="26" ry="20" transform="rotate(-50 660 420)" fill="#000"/>
<path d="M200 0 L375 115 L375 145 L340 160"/>
<path d="M185 40 L345 160"/>
<path d="M168 95 L300 200"/>
<path d="M150 150 L275 262"/>
<path d="M180 0 L120 150 L95 320 L130 460 L145 600 L200 690 L330 900 L480 1170 L560 1260 L700 1340 L900 1400 L1100 1480 L1460 1610" stroke-width="2.6"/>
<path d="M130 260 L200 510 L330 740 L450 950 L600 1150 L700 1220 L900 1290 L1100 1380 L1370 1500"/>
<path d="M540 580 L700 800 L840 1010 L900 1060 L1000 1100 L1080 1145 L1060 1100 L900 870 L740 620 L720 560"/>
<path d="M600 585 L760 800 L870 980 L1050 1100"/>
<path d="M730 550 L800 650 L1000 900 L1150 1150 L1250 1300 L1350 1450 L1460 1610" stroke-width="2.6"/>
<path d="M680 580 L800 760 L960 960 L1180 1230"/>
</g>
<ellipse cx="725.4" cy="282.5" rx="2.3" ry="6" transform="rotate(40 725.4 282.5)" fill="#000"/>
<path d="M724.5 325 L744.5 343.7 L744 348 L733.5 361.4 L719.5 343.7 Z"/>
</g>
<use href="#fcL" transform="translate(1812,0) scale(-1,1)"/>
</g>

<!-- 30_tank.svg -->
<g id="tank" stroke="#000" stroke-width="1.9" fill="none" stroke-linejoin="round">
<g transform="translate(1280,130) scale(0.29568)">
<path d="M570 30 C650 30 720 55 800 95 L1050 215 L1200 285 C1250 305 1300 320 1350 345 C1420 385 1470 440 1505 500 C1530 570 1537 640 1530 720 C1520 790 1490 840 1450 875 C1400 915 1350 935 1300 950 L1200 990 L1050 1060 L900 1140 L800 1190 C740 1220 680 1255 620 1265 C570 1270 520 1255 480 1235 C440 1210 400 1180 370 1155 L200 1020 C140 970 100 940 75 880 C50 820 42 720 42 640 C42 560 45 480 60 420 C75 380 100 350 140 320 L300 170 C360 115 410 70 470 45 C500 35 535 30 570 30 Z"/>
<path d="M1050 425 C1000 390 950 355 880 325 C800 295 700 275 600 270 C500 268 400 285 300 320 C220 350 160 380 110 420 C80 460 72 540 70 640 C70 740 75 800 100 860 C140 910 200 940 300 980 C400 1005 500 1020 600 1020 C700 1015 800 995 900 960 C960 935 1010 900 1050 870"/>
<path d="M770 460 C775 420 760 380 700 345 C660 335 600 333 540 338 C450 350 350 380 250 420 C170 450 140 480 132 560 C128 620 128 700 150 770 C170 830 200 845 300 890 C400 930 500 955 620 962 C700 962 750 950 770 900 C782 870 778 840 775 820"/>
<circle cx="872" cy="645" r="180"/>
<circle cx="872" cy="645" r="172"/>
<circle cx="872" cy="645" r="164" stroke-width="1.2"/>
<circle cx="858" cy="642" r="87" stroke-width="2.4"/>
<circle cx="858" cy="642" r="73"/>
<rect x="832" y="590" width="64" height="108" rx="30"/>
<path d="M835 625 L895 605 M835 665 L895 665 M840 680 L890 680"/>
<circle cx="740" cy="645" r="10"/><circle cx="740" cy="645" r="4" fill="#000"/>
<circle cx="792" cy="740" r="16"/><circle cx="792" cy="740" r="8"/>
<circle cx="985" cy="722" r="12"/><circle cx="985" cy="722" r="4" fill="#000"/>
<circle cx="985" cy="566" r="12"/><circle cx="985" cy="566" r="4" fill="#000"/>
<circle cx="944" cy="570" r="14"/><circle cx="944" cy="570" r="6"/>
<!-- decals -->
<rect x="392" y="152" width="292" height="28" fill="#000" stroke="none"/>
<rect x="395" y="1108" width="290" height="30" fill="#000" stroke="none"/>
<text x="538" y="1098" font-family="Liberation Sans" font-weight="bold" font-size="76" text-anchor="middle" fill="#fff" stroke="#000" stroke-width="5.5" textLength="370" lengthAdjust="spacingAndGlyphs" style="vector-effect:none">Kawasaki</text>
<text x="538" y="-195" transform="scale(-1,-1) translate(-1076,0)" font-family="Liberation Sans" font-weight="bold" font-size="76" text-anchor="middle" fill="#fff" stroke="#000" stroke-width="5.5" textLength="370" lengthAdjust="spacingAndGlyphs">Kawasaki</text>
<text x="540" y="1133" font-family="Liberation Sans" font-weight="bold" font-size="28" text-anchor="middle" fill="#999" stroke="none" textLength="270" lengthAdjust="spacingAndGlyphs">Racing Team</text>
<text x="538" y="-157" transform="scale(-1,-1) translate(-1076,0)" font-family="Liberation Sans" font-weight="bold" font-size="28" text-anchor="middle" fill="#999" stroke="none" textLength="270" lengthAdjust="spacingAndGlyphs">Racing Team</text>
</g>
<g transform="translate(1660,240) scale(0.08279)">
<path d="M650 230 C780 320 850 450 920 560 C950 660 980 800 995 950 C990 1100 960 1250 920 1380 C880 1480 820 1560 700 1691"/>
<path d="M780 330 L840 330 L840 380 M840 380 L1120 380 C1150 390 1150 440 1120 450 L840 450"/>
<path d="M940 650 L1375 650" stroke-width="3"/>
<path d="M1225 640 L1225 595 L1335 595 L1335 640"/>
<path d="M960 650 L960 700 L1140 700 M1140 680 L1140 840 L1165 855 L1305 855 L1305 1100 L1165 1100 L1140 1120 L1140 1275 L1375 1275 L1375 1310 L950 1310"/>
<path d="M975 700 L990 950 L980 1250 L1140 1250"/>
<circle cx="1062" cy="790" r="38"/><circle cx="1062" cy="915" r="38"/><circle cx="1062" cy="1040" r="38"/><circle cx="1062" cy="1165" r="38"/>
<path d="M930 1340 L1060 1350 C1110 1370 1135 1400 1140 1450 L1140 1560 C1135 1595 1075 1600 1058 1560 L1055 1450 C1040 1405 1000 1395 920 1395"/>
</g>
</g>

<!-- 40_tail.svg -->
<g id="tail" stroke="#000" stroke-width="1.9" fill="none" stroke-linejoin="round">
<g transform="translate(1190,660) scale(0.40212)">
<path d="M35 42 L200 55 L300 65 L420 60 L520 55 L650 110 L800 170 L900 180 C940 185 970 195 1000 208 C1060 235 1110 265 1160 300 C1220 345 1270 385 1320 410"/>
<path d="M960 190 C1000 205 1040 225 1080 250 C1140 285 1200 330 1250 365 L1355 435" stroke-width="2.6"/>
<path d="M35 42 L40 55 L100 80 L200 105 L300 135 L370 160 C400 175 430 200 460 235 C500 280 540 320 580 350 C620 380 660 395 700 405 L800 425 C850 440 900 460 950 485 C1000 510 1040 540 1070 575 L1100 600 L1130 602"/>
<path d="M45 50 L100 72 L200 98 L300 128 L375 155 C410 175 440 205 470 240 C510 285 545 320 590 352 C630 380 665 392 705 398 L805 418 C855 432 905 452 955 478 C1005 503 1045 533 1075 568 L1105 592 L1200 570 L1300 550 L1400 542 L1500 547 L1600 565 L1650 578"/>
<path d="M1100 600 L1200 578 L1300 558 L1400 550 L1500 555 L1600 572 L1658 588 L1650 570 C1600 545 1550 510 1510 478 L1500 462"/>
<path d="M1207 570 C1225 590 1245 606 1265 603 C1290 595 1310 580 1330 572 C1360 565 1400 563 1436 564 C1500 568 1560 578 1640 590"/>
<path d="M530 268 L700 250 L850 238 L980 238 L1050 255"/>
<path d="M580 315 L1040 258"/>
<path d="M620 345 L1110 290"/>
<path d="M970 478 L1360 440" stroke-width="2.4"/>
<path d="M1055 528 L1500 488"/>
<path d="M1055 528 L1120 585"/>
<path d="M1310 380 L1330 370 C1350 385 1360 400 1375 412 L1480 455"/>
<path d="M1480 448 L1500 448 L1505 470"/>
</g>
</g>

<!-- 50_sidefairing.svg -->
<g id="sidefairing" stroke="#000" stroke-width="1.9" fill="none" stroke-linejoin="round">
<g transform="translate(90,810) scale(0.35482)">
<path d="M22 355 L185 140 L435 58 L520 125 L440 250 L450 268 L620 295 L870 355 C950 385 1010 415 1040 440 C1060 460 1075 490 1090 530 L1150 690 L1200 840 L1250 970 L1295 1090 L1275 1150 L1275 1200 C1285 1225 1295 1235 1310 1245 L1400 1320 L1500 1400 L1590 1460 L1600 1480"/>
<path d="M30 352 L188 148"/>
<path d="M66 365 L490 148"/>
<path d="M22 355 L60 372 L200 442 L400 542 L600 670 C630 690 650 710 668 735 C700 780 740 850 780 920 L840 1040 L880 1100 L900 1170 L910 1210 L950 1290 L1000 1365 L1040 1360 L1100 1350"/>
<path d="M40 365 L200 450 L400 550 L600 678 C630 698 650 715 672 745" />
<path d="M640 690 C680 730 720 790 760 860 L850 1020 L900 1100 L990 1190"/>
<path d="M460 270 L620 303 L870 363 C945 392 1005 420 1033 445 C1055 468 1068 495 1082 535 L1140 700 L1190 850 L1245 960"/>
<path d="M965 1290 L1040 1285 L1100 1310 L1300 1395 L1400 1425 L1500 1460 L1600 1490 L1592 1530 L1500 1525 L1400 1500 L1280 1465 L1200 1420 L1120 1365 L1100 1340 L1105 1320"/>
<circle cx="1125" cy="1338" r="20"/><circle cx="1162" cy="1360" r="14"/>
<path d="M1215 1375 L1255 1385 L1250 1405 L1210 1395 Z"/>
<rect x="1290" y="1400" width="100" height="80" rx="15"/><circle cx="1345" cy="1445" r="14"/>
<path d="M1435 1455 L1480 1465 L1475 1490 L1430 1480 Z"/>
<circle cx="1525" cy="1500" r="15"/><circle cx="1570" cy="1510" r="20"/>
<path d="M415 545 L540 440 C570 425 600 415 630 410 L870 375" stroke-width="2.4"/>
<path d="M525 605 C560 570 590 540 630 520 C660 505 690 498 720 494 L1000 448"/>
<path d="M600 645 C620 610 640 585 665 568 C690 552 720 545 760 538 L1045 490"/>
<path d="M625 668 C650 640 680 610 710 590 C730 580 750 575 780 572 L1060 520"/>
<path d="M760 795 L1140 722"/>
<path d="M805 865 L1175 795" stroke-width="2.4"/>
<path d="M700 660 L760 800 M740 640 L805 865" stroke-width="0"/>
<text x="0" y="0" transform="translate(462,420) rotate(-20) skewX(-35)" font-family="Liberation Serif" font-style="italic" font-weight="bold" font-size="125" fill="#fff" stroke="#000" stroke-width="7" text-anchor="middle" textLength="290" lengthAdjust="spacingAndGlyphs">Ninja</text>
</g>
<g transform="translate(320,1000) scale(0.10645)">
<path d="M600 540 L590 420 L610 325 L650 300 L1080 222 L1100 240 L1085 300 L1068 312 L1060 420 L1040 440 Z" stroke-width="2"/>
<path d="M690 350 L700 390 L1000 330 L1005 290 Z"/>
<path d="M680 440 L690 480 L985 415 L995 378 Z"/>
<path d="M1100 430 L1110 270 L1130 250 L1460 195 L1470 212 L1460 282 L1385 318 L1500 368 L1402 390 L1300 342 L1165 372 L1160 420 Z" stroke-width="2"/>
<path d="M1180 300 L1190 320 L1395 282 L1400 258 Z"/>
<path d="M100 470 L570 352 L560 385 L400 430 L550 462 L545 478 L100 555 L330 470 L120 495 Z" stroke-width="2.2"/>
<path d="M160 500 L420 420 M200 520 L480 440" />
</g>
</g>

<!-- 60_midfairing.svg -->
<g id="midfairing" stroke="#000" stroke-width="1.9" fill="none" stroke-linejoin="round">
<g transform="translate(630,830) scale(0.49675)">
<path d="M15 270 L95 225 L165 240 L215 265 L240 270 L280 258 L285 240 L270 200 L262 160 L275 110 L285 90 L292 85 L300 95 L330 80 L345 65 L365 65 L385 60 L410 75 L440 80 L475 40 L495 48 L505 90 L560 95 L660 100 L700 105 L730 110 L800 105 L900 100 L985 105 L1010 120 L1050 140 L1104 165 L1166 193 L1222 230 L1259 258 L1268 300 L1320 310 L1400 330 L1500 360 L1600 390 L1665 410"/>
<path d="M268 250 L275 238 L262 200 L255 160 L268 112"/>
<ellipse cx="360" cy="82" rx="5" ry="4"/>
<path d="M15 270 L20 282 L100 302 L200 332 L300 372 L400 425 L500 505 L600 585 C650 625 690 660 720 690 C750 720 780 740 800 760 L820 790 L840 805 L870 805 L900 795 L950 780 L1020 762 L1100 742 L1200 715 C1230 700 1260 680 1290 650 C1330 610 1370 575 1420 540 C1480 500 1540 470 1600 440 L1665 410"/>
<path d="M100 292 L200 322 L300 362 L400 417 L500 498"/>
<path d="M240 275 L390 300"/>
<path d="M420 320 L560 290"/>
<path d="M460 365 L560 410 C600 430 640 460 670 500 C700 540 720 600 740 650 L770 700 L800 745 L805 775"/>
<path d="M612 465 C660 500 690 540 710 580 C730 630 750 680 780 720"/>
<path d="M415 437 L520 422 L610 480 L640 600 L625 603 L470 490 Z"/>
<path d="M632 402 L645 398 L672 465 L660 470 Z"/>
<path d="M755 435 L822 405 L865 522 L855 525 Z"/>
<path d="M760 530 L780 525 L830 590 L828 620 L815 620 L758 545 Z"/>
<path d="M890 582 L905 578 L950 690 L935 703 L895 705 Z"/>
<path d="M935 738 L1000 710 L1015 735 L1012 760 L965 772 Z"/>
<circle cx="992" cy="735" r="9"/>
<path d="M830 330 C830 318 840 312 860 312 C875 318 882 340 888 358 L830 360 Z"/>
<circle cx="852" cy="333" r="9"/>
<path d="M910 505 C912 490 930 480 960 482 C975 500 985 530 980 548 L918 572 C910 560 908 530 910 505 Z"/>
<path d="M920 510 C925 498 940 492 958 494 C968 510 975 530 970 542 L925 560 Z"/>
<circle cx="945" cy="530" r="9"/>
<path d="M925 375 C1000 400 1150 455 1245 497 C1250 530 1232 568 1200 590 L1060 650 L1042 655 C1012 580 970 480 925 375 Z"/>
<path d="M920 345 C960 342 1000 350 1040 365 L1300 480"/>
<path d="M800 245 L900 300 L1060 370 L1300 470"/>
<path d="M1320 490 L1420 470"/>
<path d="M1040 665 L1190 622 C1225 600 1250 575 1270 545 L1300 500"/>
<path d="M1042 660 C1045 690 1048 720 1048 755"/>
<path d="M1030 595 L1040 662"/>
<path d="M855 265 L1050 208 L1325 318 L1125 385 Z"/>
<path d="M915 290 L1118 236"/>
<path d="M955 305 L1160 252"/>
<path d="M705 150 L825 167 L903 176 L980 182.5 L1070 202.6 L1135 230.5 L1181 261 L1250 305"/>
<path d="M700 132 L825 139 L1011 141 L1070 155.5 L1135 187 L1222 240 L1259 263 L1268 298"/>
<path d="M1066 146 L1100 155 L1103 168 L1070 160 Z" fill="#000"/>
<path d="M825 131 L860 128 L880 122 L905 121 L910 133 L925 133 L925 138"/>
<path d="M725 115 L800 125 L830 110 L870 118 L880 100 L920 110 L960 108 L990 130"/>
<path d="M760 122 L790 112 M840 122 L860 112 M900 128 L930 122"/>
<path d="M1070 150 L1100 160 L1098 170"/>
<circle cx="435" cy="270" r="15"/><circle cx="435" cy="270" r="8"/>
<circle cx="1450" cy="470" r="15"/><circle cx="1450" cy="470" r="8"/>
<circle cx="770" cy="337" r="4"/>
<ellipse cx="836" cy="797" rx="5" ry="5"/><ellipse cx="856" cy="792" rx="6" ry="9"/>
<path d="M520 520 L545 518 L548 530"/>
</g>
</g>

<!-- 70_sidecover1.svg -->
<g id="sidecover1" stroke="#000" stroke-width="1.9" fill="none" stroke-linejoin="round">
<g transform="translate(1290,1250) scale(0.21290)">
<path d="M155 72 L400 230 L660 385 L700 372 L720 310 L728 265 L800 275 L800 330 L1320 240 L1330 185 L1360 155 L1400 152 L1450 195 L1510 200 L1525 240 L1575 260 L1560 300 L1400 370 L1200 450 L900 570 L660 655 L620 650 L450 500 L300 330 L145 170 L145 85 Z" stroke-width="2.4"/>
<path d="M165 165 L330 325 L470 480 L640 640"/>
<rect x="150" y="100" width="30" height="50" fill="#000"/>
<path d="M515 450 L1420 245 L1520 205"/>
<path d="M530 462 L1430 260 L1560 265"/>
<path d="M515 450 L690 605 L1500 285"/>
<path d="M620 540 L1480 300"/>
<path d="M650 575 L1500 290"/>
<path d="M700 590 L1510 295 M720 598 L1515 298"/>
<path d="M1300 320 L1500 280 L1300 335 Z" fill="#000"/>
<path d="M640 645 L1550 300"/>
<circle cx="762" cy="300" r="14"/>
<circle cx="1380" cy="188" r="16"/>
<path d="M1335 240 L1340 180 C1360 155 1400 150 1430 180 L1460 210"/>
<path d="M290 450 L340 462 L380 440 M340 462 C350 520 340 580 345 620 L390 660 L580 630"/>
<path d="M720 310 C705 330 700 360 690 380"/>
</g>
</g>

<!-- 75_sidecover2.svg -->
<g id="sidecover2" stroke="#000" stroke-width="1.9" fill="none" stroke-linejoin="round">
<g transform="translate(1520,1480) scale(0.20698)">
<path d="M405 200 L750 110 L800 85 L1000 75 L1520 62 L1610 75 L1605 105 L1500 135 L1200 255 L900 405 L600 562 L400 662 L180 770 L150 740 L140 600 L130 570 L70 555"/>
<path d="M515 290 L800 240 L1100 172 L1400 110 L1605 82" stroke-width="2.6"/>
<path d="M760 95 L1000 82 L1520 70 L1605 80"/>
<path d="M405 200 L510 285 L510 360 L470 385 L130 560" />
<path d="M470 392 L120 570" stroke-width="2.6"/>
<path d="M405 200 L380 270 L315 420"/>
<path d="M430 295 L485 320 L480 350 L380 400 L375 380 Z" stroke-width="2.4"/>
<path d="M560 345 L940 258 L945 310 L565 398 Z" fill="#666" stroke-width="2.6"/>
<path d="M820 290 L815 335" stroke="#fff" stroke-width="2"/>
</g>
</g>

<!-- 80_fender.svg -->
<g id="fender" stroke="#000" stroke-width="1.9" fill="none" stroke-linejoin="round">
<g transform="translate(340,1530) scale(0.24837)">
<path d="M85 515 C88 460 100 420 140 360 C170 330 200 312 220 300 C260 280 300 265 330 255 L510 210 C550 200 580 192 600 185 C640 172 670 160 690 148 L750 100 L810 72 L850 72 C855 110 855 150 860 180 C865 200 875 218 890 232 C905 248 920 258 945 264 L1030 262 L1210 258 L1470 258 C1490 262 1505 272 1515 285 C1540 320 1570 370 1585 430 C1595 480 1600 500 1600 515 C1600 540 1595 570 1588 600 C1575 650 1550 690 1520 735 C1505 760 1490 770 1470 772 L1210 772 L1030 772 L945 766 C920 770 900 780 885 795 C870 815 862 835 860 860 C856 900 856 930 855 960 L810 960 L750 920 L690 882 C670 870 640 858 600 845 L510 815 L330 770 C300 762 260 748 220 730 C190 712 160 690 140 665 C110 630 95 590 88 560 Z"/>
<path d="M515 210 L740 250 L975 318 M740 250 L815 228"/>
<path d="M515 815 L740 780 L975 712 M740 780 L815 800"/>
<path d="M690 150 C700 120 730 90 790 80"/>
<path d="M690 880 C700 910 730 940 800 952"/>
<path d="M1207 245 L1295 245 L1295 300 C1292 330 1280 350 1262 350 C1245 350 1232 330 1228 300 C1225 275 1220 260 1207 255 Z"/>
<path d="M1207 785 L1295 785 L1295 730 C1292 700 1280 680 1262 680 C1245 680 1232 700 1228 730 C1225 755 1220 770 1207 775 Z"/>
<path d="M1207 245 L1295 245 M1207 785 L1295 785" stroke-width="3"/>
<rect x="218" y="408" width="46" height="216" fill="#222" stroke-width="2"/>
<rect x="200" y="432" width="20" height="170" fill="#000"/>
<path d="M238 420 L238 610 M246 425 L246 600" stroke="#fff" stroke-width="1"/>
</g>
</g>

<!-- 85_lowercowl.svg -->
<g id="lowercowl" stroke="#000" stroke-width="1.9" fill="none" stroke-linejoin="round">
<g transform="translate(950,1650) scale(0.37256)">
<path d="M25 60 L100 58 L300 120 L500 175 L600 210 L760 270 C790 290 810 305 830 330 C860 365 890 395 920 420 C950 445 980 470 1020 490 C1050 502 1075 505 1100 505 L1200 500 L1280 490 C1300 470 1310 440 1318 410 C1325 385 1345 368 1380 362 C1420 360 1460 378 1500 400 L1560 440 L1630 480 L1560 540 L1530 565 L1400 575 L1200 590 L1050 600 L900 560 L750 540 L600 545 L420 570 L340 600 L300 620 L200 645 L130 650 L75 648 C70 600 65 560 68 520 C72 470 90 430 98 380 C105 320 100 260 90 210 C80 160 60 110 25 60 Z"/>
<path d="M95 62 C110 100 125 160 138 240 C148 320 150 400 145 460 C140 530 138 600 140 650"/>
<path d="M262 503 C262 470 268 420 278 384 C288 350 300 325 318 304 C330 288 342 274 357 265 C380 252 405 245 437 241 C470 237 495 236 516 237 C528 242 532 250 528 257 C524 265 518 270 512 273 L437 297 C420 304 408 311 397 320 C380 333 368 348 357 364 C340 390 328 405 318 424 C305 450 295 478 286 503 C280 510 268 510 262 503 Z"/>
<path d="M272 500 C272 468 278 422 287 388 C296 355 307 332 324 311 C336 296 348 283 362 274 C384 262 408 254 438 250 C470 246 494 245 512 246"/>
<path d="M381 340 L516 305 L671 291"/>
<path d="M525 240 L750 288"/>
<path d="M300 505 L380 360 C400 345 420 338 440 335 L770 295 L940 445 Z"/>
<path d="M316 484 L900 410"/>
<text x="0" y="0" transform="translate(603,430) rotate(-8)" font-family="Liberation Sans" font-weight="bold" font-size="94" fill="#fff" stroke="#000" stroke-width="5" text-anchor="middle" textLength="400" lengthAdjust="spacingAndGlyphs">Kawasaki</text>
<circle cx="165" cy="97" r="11"/><circle cx="165" cy="97" r="4" fill="#000"/>
<circle cx="537" cy="210" r="12"/><circle cx="537" cy="210" r="5" fill="#000"/>
<ellipse cx="1433" cy="455" rx="32" ry="38" transform="rotate(25 1433 455)" stroke-width="2.4"/>
<rect x="1330" y="362" width="52" height="48" rx="12" stroke-width="2.4"/>
<circle cx="1356" cy="386" r="12"/>
<path d="M1300 495 L1630 480"/>
</g>
</g>

<!-- 90_wheels.svg -->
<g id="wheels" stroke="#000" fill="none" stroke-linejoin="round">
<defs><g id="wheelunit"><path d="M-73.8 -148.7 L-68.0 -151.4 L-62.2 -153.9 L-56.2 -156.2 L-50.2 -158.2 L-44.1 -160.0 L-37.9 -161.6 L-31.7 -163.0 L-25.4 -164.0 L-19.1 -164.9 L-12.7 -165.5 L-6.4 -165.9 L0.0 -166.0 L6.4 -165.9 L12.7 -165.5 L19.1 -164.9 L25.4 -164.0 L31.7 -163.0 L37.9 -161.6 L44.1 -160.0 L50.2 -158.2 L56.2 -156.2 L62.2 -153.9 L68.0 -151.4 L73.8 -148.7 L14.0 -86.0 Q0 -79 -14.0 -86.0 Z" stroke-width="3"/>
<path d="M-69.5 -152.4 L-64.0 -154.8 L-58.4 -157.0 L-52.8 -159.0 L-47.1 -160.7 L-41.3 -162.3 L-35.5 -163.7 L-29.7 -164.8 L-23.8 -165.8 L-17.9 -166.5 L-11.9 -167.1 L-6.0 -167.4 L0.0 -167.5 L6.0 -167.4 L11.9 -167.1 L17.9 -166.5 L23.8 -165.8 L29.7 -164.8 L35.5 -163.7 L41.3 -162.3 L47.1 -160.7 L52.8 -159.0 L58.4 -157.0 L64.0 -154.8 L69.5 -152.4" stroke-width="6.5"/>
<path d="M-92.8 -137.6 L-98.0 -134.0 L-103.0 -130.2 L-107.9 -126.1 L-112.6 -121.9 L-117.2 -117.6 L-121.6 -113.0 L-125.8 -108.3 L-129.9 -103.4 L-133.7 -98.4 L-137.3 -93.2 L-140.8 -87.9 L-144.0 -82.5 L-147.1 -76.9 L-149.9 -71.3 L-152.5 -65.5 L-154.9 -59.7 L-157.1 -53.7 L-159.0 -47.7 L-160.7 -41.6 L-162.2 -35.5 L-163.4 -29.3 L-164.4 -23.0 L-165.2 -16.7 L-165.7 -10.4 L-80 13 Q-64 12 -61 -3 L-50 -28 L-35 -48 Q-25 -58 -24.5 -72 Z" stroke-width="3"/>
<path d="M-98.5 -135.5 L-103.2 -132.0 L-107.8 -128.2 L-112.2 -124.4 L-116.5 -120.3 L-120.7 -116.1 L-124.7 -111.8 L-128.6 -107.3 L-132.3 -102.7 L-135.8 -98.0 L-139.2 -93.2 L-142.4 -88.2 L-145.4 -83.1 L-148.3 -77.9 L-150.9 -72.7 L-153.4 -67.3 L-155.7 -61.8 L-157.7 -56.3 L-159.6 -50.7 L-161.3 -45.1 L-162.8 -39.3 L-164.1 -33.6 L-165.2 -27.8 L-166.1 -21.9 L-166.7 -16.1" stroke-width="6.5"/>
<path d="M-91 -142 L-8 -64 L8 -64 L91 -142" stroke-width="1.6"/>
<path d="M-85 -148 L0 -74 L85 -148" stroke-width="1.6"/>
<path d="M-91 -142 L-88 -148 L-85 -148 M91 -142 L88 -148 L85 -148" stroke-width="1.6"/></g><g id="wheelbase"><circle r="197" stroke-width="2.2"/>
<circle r="187.3" stroke-width="14.2" stroke="#0a0a0a"/>
<circle r="175.2" stroke-width="2"/><use href="#wheelunit"/><use href="#wheelunit" transform="rotate(120)"/><use href="#wheelunit" transform="rotate(240)"/></g></defs>
<g transform="translate(455.5,2159.4) scale(0.995,1.004)"><use href="#wheelbase"/><circle r="59" stroke-width="2"/>
<circle r="22.8" stroke-width="4.2"/>
<circle r="18.2" stroke-width="1.6"/>
<circle cx="0.0" cy="-42.5" r="8.5" stroke-width="1.8"/>
<circle cx="0.0" cy="-42.5" r="4.6" fill="#000" stroke="none"/>
<circle cx="0.0" cy="-42.5" r="1.0" fill="#fff" stroke="none"/>
<circle cx="-40.4" cy="-13.1" r="8.5" stroke-width="1.8"/>
<circle cx="-40.4" cy="-13.1" r="4.6" fill="#000" stroke="none"/>
<circle cx="-40.4" cy="-13.1" r="1.0" fill="#fff" stroke="none"/>
<circle cx="40.4" cy="-13.1" r="8.5" stroke-width="1.8"/>
<circle cx="40.4" cy="-13.1" r="4.6" fill="#000" stroke="none"/>
<circle cx="40.4" cy="-13.1" r="1.0" fill="#fff" stroke="none"/>
<circle cx="-25.0" cy="34.4" r="8.5" stroke-width="1.8"/>
<circle cx="-25.0" cy="34.4" r="4.6" fill="#000" stroke="none"/>
<circle cx="-25.0" cy="34.4" r="1.0" fill="#fff" stroke="none"/>
<circle cx="25.0" cy="34.4" r="8.5" stroke-width="1.8"/>
<circle cx="25.0" cy="34.4" r="4.6" fill="#000" stroke="none"/>
<circle cx="25.0" cy="34.4" r="1.0" fill="#fff" stroke="none"/>
<ellipse cx="-23.5" cy="-32.4" rx="11.5" ry="8" transform="rotate(-36.0 -23.5 -32.4)" stroke-width="1.8"/>
<ellipse cx="23.5" cy="-32.4" rx="11.5" ry="8" transform="rotate(36.0 23.5 -32.4)" stroke-width="1.8"/>
<ellipse cx="-38.0" cy="12.4" rx="11.5" ry="8" transform="rotate(-108.0 -38.0 12.4)" stroke-width="1.8"/>
<ellipse cx="38.0" cy="12.4" rx="11.5" ry="8" transform="rotate(-252.0 38.0 12.4)" stroke-width="1.8"/>
<ellipse cx="-0.0" cy="40.0" rx="11.5" ry="8" transform="rotate(-180.0 -0.0 40.0)" stroke-width="1.8"/></g>
<g transform="translate(1410.6,2158.6) scale(0.995,1.004)"><use href="#wheelbase"/><circle r="60" stroke-width="1.8"/>
<circle r="52.3" stroke-width="7.6"/>
<circle r="46.3" stroke-width="1.6"/>
<circle r="21.8" stroke-width="5"/>
<circle r="17.4" stroke-width="1.5"/>
<circle r="14.2" stroke-width="1.5"/>
<circle r="11" stroke-width="3.3"/>
<g transform="rotate(0)"><path d="M-1.7 -24 L-1.7 -46.5 M1.7 -24 L1.7 -46.5" stroke-width="1.7"/><path d="M-5 -24 L-1.7 -28 L1.7 -28 L5 -24 Z" fill="#000" stroke="none"/></g>
<g transform="rotate(90)"><path d="M-1.7 -24 L-1.7 -46.5 M1.7 -24 L1.7 -46.5" stroke-width="1.7"/><path d="M-5 -24 L-1.7 -28 L1.7 -28 L5 -24 Z" fill="#000" stroke="none"/></g>
<g transform="rotate(180)"><path d="M-1.7 -24 L-1.7 -46.5 M1.7 -24 L1.7 -46.5" stroke-width="1.7"/><path d="M-5 -24 L-1.7 -28 L1.7 -28 L5 -24 Z" fill="#000" stroke="none"/></g>
<g transform="rotate(270)"><path d="M-1.7 -24 L-1.7 -46.5 M1.7 -24 L1.7 -46.5" stroke-width="1.7"/><path d="M-5 -24 L-1.7 -28 L1.7 -28 L5 -24 Z" fill="#000" stroke="none"/></g>
<rect x="12.1" y="-33.1" width="26" height="16" rx="7" transform="rotate(45.0 25.1 -25.1)" stroke-width="1.9"/>
<rect x="-38.1" y="-33.1" width="26" height="16" rx="7" transform="rotate(-45.0 -25.1 -25.1)" stroke-width="1.9"/>
<rect x="-38.1" y="17.1" width="26" height="16" rx="7" transform="rotate(-135.0 -25.1 25.1)" stroke-width="1.9"/>
<rect x="12.1" y="17.1" width="26" height="16" rx="7" transform="rotate(-225.0 25.1 25.1)" stroke-width="1.9"/></g>
</g>
<!-- 95_clip.svg -->
<g id="clip" stroke="#000" stroke-width="1.9" fill="none" stroke-linejoin="round">
<g transform="translate(870,2260) scale(0.094617)">
<path d="M140 510 L720 170 L850 95 L900 95 L960 130 L1090 95 L1130 150 L1100 210 L1380 380 L1500 340 L1540 380 L1520 440 L1570 490 L1570 560 L850 990 L800 1000 L700 950 L610 1010 L560 1000 L500 900 C470 840 440 810 380 770 L250 690 L180 690 L165 610 L140 600 Z"/>
<path d="M420 610 L700 465 L935 590 L820 660 L640 750 Z"/>
<path d="M490 650 L730 520 L780 590 L560 720 Z"/>
<path d="M700 465 L790 580 L820 660"/>
<path d="M770 410 L1040 255 L1280 395 L1000 545 Z"/>
<path d="M860 440 L1090 320 L1140 390 L920 510 Z"/>
<path d="M1040 255 L1130 360 L1160 460"/>
<path d="M310 460 L390 430 L520 510 L450 545 Z"/>
<path d="M750 210 L820 180 L950 260 L880 305 Z"/>
<path d="M760 700 L820 680 L960 770 L890 800 Z"/>
<path d="M1200 440 L1250 430 L1400 510 L1340 545 Z"/>
<path d="M1200 440 L1250 430 L1260 480 L1210 490 Z" fill="#000"/>
<path d="M340 630 L620 790"/>
<path d="M860 890 L1550 500"/>
<path d="M165 520 L230 555"/>
<path d="M200 600 L300 530 L360 560 L310 640 L200 680 Z"/>
<path d="M600 860 L720 780 L790 800 L770 860 L680 930 L600 920 Z"/>
<path d="M930 160 L1100 100 M1360 400 L1520 350 M1110 210 L1370 380"/>
</g>
</g>

</svg>
</body></html>
